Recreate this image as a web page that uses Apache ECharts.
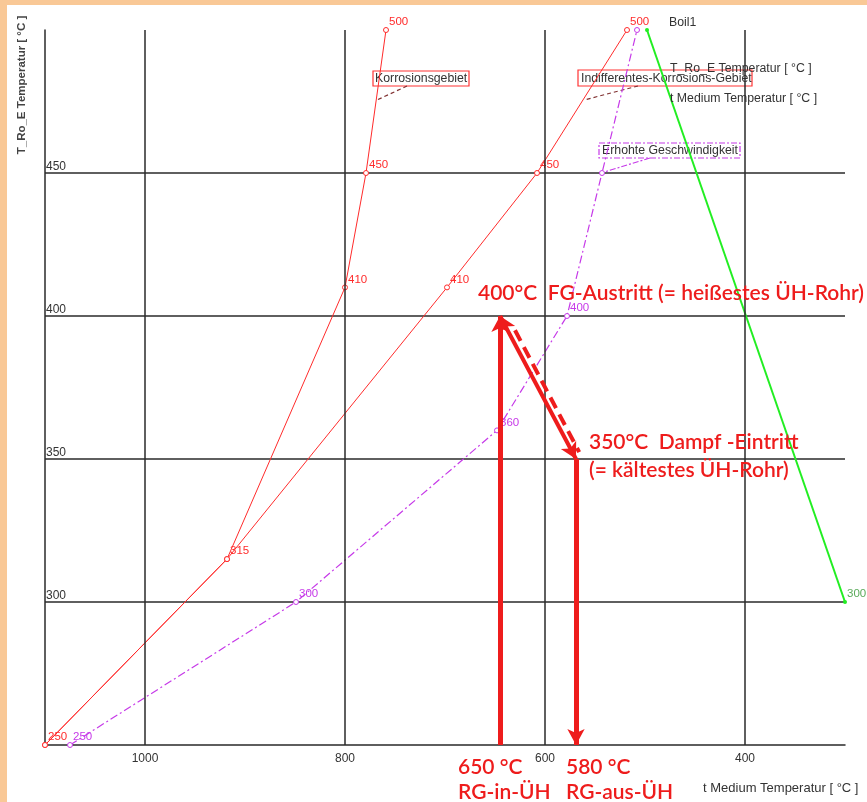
<!DOCTYPE html>
<html><head><meta charset="utf-8">
<script src="https://cdn.jsdelivr.net/npm/echarts@6/dist/echarts.min.js"></script>
<style>html,body{margin:0;padding:0;background:#fff;}#c{width:867px;height:802px;}</style>
</head><body><div id="c"></div>
<script>
// ---- data ----
const xTickLabels = [400, 600, 800, 1000];
const yTickLabels = [300, 350, 400, 450];
const redA_X = [1100, 918, 800, 779, 759];
const redA_Y = [250, 315, 410, 450, 500];
const redB_X = [1100, 918, 698, 608, 518];
const redB_Y = [250, 315, 410, 450, 500];
const purple_X = [1075, 849, 648, 578, 543, 508];
const purple_Y = [250, 300, 360, 400, 450, 500];
const green_X = [498, 300];
const green_Y = [500, 300];
// red hand-drawn arrows: [x0, y0, x1, y1]
const arrowUp = [645, 250, 645, 400];
const arrowDiag = [645, 400, 569, 350];
const arrowDash = [630, 395, 565.8, 352.4];
const arrowDown = [569, 350, 569, 250];

const RED = '#ff2b2b', PURPLE = '#c63ae8', GREEN = '#22ee22', ANN = '#ee1c1c';
const SMALL = '12.3px Arial';
const BIG = '600 21px Lato';
function mk(xs, ys, show) {
  return xs.map((x, i) => ({ value: [x, ys[i]], label: { show: show.includes(i) } }));
}
const ptLabel = (color) => ({
  show: true, position: 'right', distance: 0, offset: [0, -8],
  color: color, fontSize: 11.5, fontFamily: 'Arial',
  formatter: p => p.value[1]
});

const chart = echarts.init(document.getElementById('c'));
const option = {
  animation: false,
  backgroundColor: '#ffffff',
  grid: { left: 45, right: 22, top: 30, bottom: 57 },
  xAxis: {
    type: 'value', inverse: true, min: 300, max: 1100, interval: 100,
    axisLine: { show: true, onZero: false, lineStyle: { color: '#2a2a2a', width: 1.5 } },
    axisTick: { show: false },
    splitLine: { show: false },
    axisLabel: {
      color: '#333', fontSize: 12, fontFamily: 'Arial', margin: 8,
      formatter: v => xTickLabels.includes(v) ? String(v) : ''
    }
  },
  yAxis: {
    type: 'value', min: 250, max: 500, interval: 50,
    axisLine: { show: true, onZero: false, lineStyle: { color: '#2a2a2a', width: 1.5 } },
    axisTick: { show: false },
    splitLine: { show: true, showMinLine: false, showMaxLine: false, lineStyle: { color: '#2a2a2a', width: 1.5 } },
    axisLabel: {
      inside: true, margin: 1, verticalAlign: 'bottom', align: 'left',
      color: '#333', fontSize: 12, fontFamily: 'Arial',
      formatter: v => yTickLabels.includes(v) ? String(v) : ''
    }
  },
  series: [
    { // vertical grid lines
      type: 'line', z: 0, data: [], silent: true,
      markLine: {
        silent: true, symbol: 'none', label: { show: false },
        lineStyle: { color: '#2a2a2a', width: 1.5, type: 'solid' },
        data: xTickLabels.map(v => ({ xAxis: v }))
      }
    },
    {
      name: 'redA', type: 'line', z: 2, data: mk(redA_X, redA_Y, [0,1,2,3,4]),
      lineStyle: { color: RED, width: 1 }, symbol: 'circle', symbolSize: 5,
      itemStyle: { color: '#fff', borderColor: RED, borderWidth: 1 },
      label: ptLabel(RED)
    },
    {
      name: 'redB', type: 'line', z: 2, data: mk(redB_X, redB_Y, [2,3,4]),
      lineStyle: { color: RED, width: 1 }, symbol: 'circle', symbolSize: 5,
      itemStyle: { color: '#fff', borderColor: RED, borderWidth: 1 },
      label: ptLabel(RED)
    },
    {
      name: 'purple', type: 'line', z: 2, data: mk(purple_X, purple_Y, [0,1,2,3]),
      lineStyle: { color: PURPLE, width: 1.2, type: [8, 3, 2, 3] }, symbol: 'circle', symbolSize: 5,
      itemStyle: { color: '#fff', borderColor: PURPLE, borderWidth: 1 },
      label: ptLabel(PURPLE)
    },
    {
      name: 'green', type: 'line', z: 2, data: mk(green_X, green_Y, [1]),
      lineStyle: { color: GREEN, width: 2 }, symbol: 'circle', symbolSize: 4,
      itemStyle: { color: GREEN },
      label: ptLabel('#5aaa5a')
    },
    { // red arrows
      type: 'line', z: 6, data: [], silent: true,
      markLine: {
        silent: true, label: { show: false }, symbolSize: [13, 16],
        lineStyle: { color: ANN, width: 5, type: 'solid' },
        data: [
          [{ coord: [arrowUp[0], arrowUp[1]], symbol: 'none' }, { coord: [arrowUp[2], arrowUp[3]], symbol: 'arrow' }],
          [{ coord: [arrowDiag[0], arrowDiag[1]], symbol: 'arrow', lineStyle: { width: 4 } }, { coord: [arrowDiag[2], arrowDiag[3]], symbol: 'arrow' }],
          [{ coord: [arrowDown[0], arrowDown[1]], symbol: 'none' }, { coord: [arrowDown[2], arrowDown[3]], symbol: 'arrow' }]
        ]
      }
    },
    { // dashed companion line
      type: 'line', z: 6, data: [], silent: true,
      markLine: {
        silent: true, label: { show: false }, symbol: 'none',
        lineStyle: { color: ANN, width: 4, type: [12, 7] },
        data: [[{ coord: [arrowDash[0], arrowDash[1]] }, { coord: [arrowDash[2], arrowDash[3]] }]]
      }
    }
  ],
  graphic: [
    { type: 'rect', z: 10, shape: { x: 0, y: 0, width: 867, height: 5 }, style: { fill: '#F9C896' } },
    { type: 'rect', z: 10, shape: { x: 0, y: 0, width: 7, height: 802 }, style: { fill: '#F9C896' } },
    { type: 'text', z: 3, x: 22, y: 85, rotation: Math.PI / 2,
      style: { text: 'T_Ro_E Temperatur [ °C ]', font: 'bold 11.5px Arial', fill: '#444', align: 'center', verticalAlign: 'middle' } },
    { type: 'text', z: 3, x: 703, y: 788,
      style: { text: 't Medium Temperatur [ °C ]', font: '13px Arial', fill: '#333', align: 'left', verticalAlign: 'middle' } },
    // boxes
    { type: 'rect', z: 1, shape: { x: 373, y: 71, width: 96, height: 15 }, style: { fill: '#fff', stroke: '#ff3333', lineWidth: 1.2 } },
    { type: 'text', z: 1, x: 375, y: 79, style: { text: 'Korrosionsgebiet', font: SMALL, fill: '#333', verticalAlign: 'middle' } },
    { type: 'polyline', z: 1, shape: { points: [[407, 86], [377, 100]] }, style: { stroke: '#803030', lineWidth: 1.2, lineDash: [4, 3] } },
    { type: 'rect', z: 1, shape: { x: 578, y: 70, width: 174, height: 16 }, style: { fill: '#fff', stroke: '#ff3333', lineWidth: 1.2 } },
    { type: 'text', z: 1, x: 581, y: 78.5, style: { text: 'Indifferentes-Korrosions-Gebiet', font: SMALL, fill: '#333', verticalAlign: 'middle' } },
    { type: 'polyline', z: 1, shape: { points: [[638, 86], [584, 100]] }, style: { stroke: '#803030', lineWidth: 1.2, lineDash: [4, 3] } },
    { type: 'rect', z: 1, shape: { x: 599, y: 143, width: 141, height: 15 }, style: { fill: '#fff', stroke: PURPLE, lineWidth: 1.2, lineDash: [6, 2, 2, 2] } },
    { type: 'text', z: 1, x: 602, y: 151, style: { text: 'Erhohte Geschwindigkeit', font: SMALL, fill: '#333', verticalAlign: 'middle' } },
    { type: 'polyline', z: 1, shape: { points: [[650, 158], [601, 173]] }, style: { stroke: PURPLE, lineWidth: 1.2, lineDash: [6, 2, 2, 2] } },
    // legend-like texts
    { type: 'text', z: 3, x: 669, y: 23, style: { text: 'Boil1', font: SMALL, fill: '#333', verticalAlign: 'middle' } },
    { type: 'text', z: 3, x: 670, y: 69, style: { text: 'T_Ro_E Temperatur [ °C ]', font: SMALL, fill: '#333', verticalAlign: 'middle' } },
    { type: 'text', z: 3, x: 670, y: 99, style: { text: 't Medium Temperatur [ °C ]', font: SMALL, fill: '#333', verticalAlign: 'middle' } },
    // red annotations
    { type: 'text', z: 7, x: 478, y: 293, style: { text: '400°C  FG-Austritt (= heißestes ÜH-Rohr)', font: BIG, fill: ANN, verticalAlign: 'middle' } },
    { type: 'text', z: 7, x: 589, y: 442, style: { text: '350°C  Dampf -Eintritt', font: BIG, fill: ANN, verticalAlign: 'middle' } },
    { type: 'text', z: 7, x: 589, y: 470, style: { text: '(= kältestes ÜH-Rohr)', font: BIG, fill: ANN, verticalAlign: 'middle' } },
    { type: 'text', z: 7, x: 458, y: 767, style: { text: '650 °C', font: BIG, fill: ANN, verticalAlign: 'middle' } },
    { type: 'text', z: 7, x: 458, y: 792, style: { text: 'RG-in-ÜH', font: BIG, fill: ANN, verticalAlign: 'middle' } },
    { type: 'text', z: 7, x: 566, y: 767, style: { text: '580 °C', font: BIG, fill: ANN, verticalAlign: 'middle' } },
    { type: 'text', z: 7, x: 566, y: 792, style: { text: 'RG-aus-ÜH', font: BIG, fill: ANN, verticalAlign: 'middle' } }
  ]
};
chart.setOption(option);
</script>
</body></html>
